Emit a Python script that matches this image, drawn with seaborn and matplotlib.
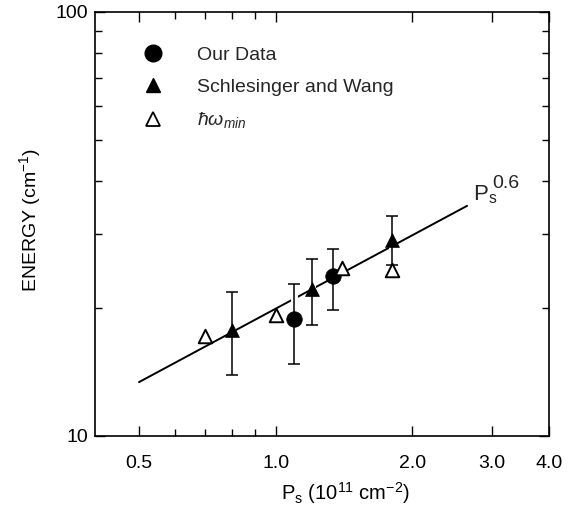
import numpy as np
import pandas as pd
import matplotlib
matplotlib.use("Agg")
import matplotlib.pyplot as plt
import matplotlib.patheffects as pe
from matplotlib.lines import Line2D
from matplotlib.ticker import FixedLocator, NullFormatter, FixedFormatter
import seaborn as sns

# ---- data ----
our_x = [1.1, 1.34]
our_y = [18.9, 23.8]
our_lo = [14.8, 19.8]
our_hi = [22.8, 27.6]

sw_x = [0.8, 1.2, 1.8]
sw_y = [17.8, 22.2, 29.0]
sw_lo = [13.9, 18.3, 25.3]
sw_hi = [21.8, 26.2, 33.0]

hw_x = [0.7, 1.0, 1.4, 1.8]
hw_y = [17.2, 19.3, 24.9, 24.6]

fit_x = [0.5, 2.64]
fit_y = [13.4, 34.9]

xticks = [0.5, 1.0, 2.0, 3.0, 4.0]
xticklabels = ["0.5", "1.0", "2.0", "3.0", "4.0"]
xminor = [0.6, 0.7, 0.8, 0.9]
yticks = [10, 100]
yticklabels = ["10", "100"]
yminor = [20, 30, 40, 50, 60, 70, 80, 90]

sns.set_style("ticks")
plt.rcParams["font.family"] = ["Liberation Sans", "DejaVu Sans"]
plt.rcParams["mathtext.fontset"] = "custom"
plt.rcParams["mathtext.rm"] = "Liberation Sans"
plt.rcParams["mathtext.it"] = "Liberation Sans:italic"

fig = plt.figure(figsize=(5.72, 5.16), dpi=100)
ax = fig.add_axes([95 / 572, 1 - 436 / 516, 454 / 572, 424 / 516])
ax.set_xscale("log")
ax.set_yscale("log")
ax.set_xlim(0.4, 4.0)
ax.set_ylim(10, 100)

halo = [pe.withStroke(linewidth=5, foreground="white")]

# fit line
fit_df = pd.DataFrame({"x": fit_x, "y": fit_y})
sns.lineplot(data=fit_df, x="x", y="y", ax=ax, color="black", lw=1.4, zorder=1)

# error bars
for xs, ys, lo, hi in [(our_x, our_y, our_lo, our_hi), (sw_x, sw_y, sw_lo, sw_hi)]:
    yerr = [np.array(ys) - np.array(lo), np.array(hi) - np.array(ys)]
    eb = ax.errorbar(xs, ys, yerr=yerr, fmt="none", ecolor="black",
                     elinewidth=1.1, capsize=4, capthick=1.1, zorder=2)
    for art in eb.lines[2]:
        art.set_path_effects(halo)

# markers
sns.scatterplot(x=our_x, y=our_y, ax=ax, marker="o", s=125, color="black",
                edgecolor="black", linewidth=0.5, zorder=3)
sns.scatterplot(x=sw_x, y=sw_y, ax=ax, marker="^", s=100, color="black",
                edgecolor="black", linewidth=0.5, zorder=3)
sns.scatterplot(x=hw_x, y=hw_y, ax=ax, marker="^", s=95, facecolor="white",
                edgecolor="black", linewidth=1.4, zorder=3)

# ticks
ax.xaxis.set_major_locator(FixedLocator(xticks))
ax.xaxis.set_major_formatter(FixedFormatter(xticklabels))
ax.xaxis.set_minor_locator(FixedLocator(xminor))
ax.xaxis.set_minor_formatter(NullFormatter())
ax.yaxis.set_major_locator(FixedLocator(yticks))
ax.yaxis.set_major_formatter(FixedFormatter(yticklabels))
ax.yaxis.set_minor_locator(FixedLocator(yminor))
ax.yaxis.set_minor_formatter(NullFormatter())
ax.tick_params(which="both", direction="in", top=True, right=True,
               color="black", width=1.0, labelsize=14, labelcolor="black")
ax.tick_params(which="major", length=7)
ax.tick_params(axis="x", which="major", pad=14)
ax.tick_params(axis="y", which="major", pad=5)
ax.tick_params(which="minor", length=5)
for s in ax.spines.values():
    s.set_linewidth(1.2)
    s.set_color("black")

ax.set_xlabel(r"$\mathregular{P_s\ (10^{11}\ cm^{-2})}$", fontsize=14.5, color="black")
ax.xaxis.set_label_coords((345 - 95) / 454, -0.105)
ax.set_ylabel(r"$\mathregular{ENERGY\ (cm^{-1})}$", fontsize=14, color="black")
ax.yaxis.set_label_coords(-0.115, 0.51)

ax.text(2.72, 36.0, r"$\mathregular{P_s}$", fontsize=16, va="baseline", ha="left")
ax.text(3.0, 38.5, "0.6", fontsize=14, va="baseline", ha="left")

handles = [
    Line2D([], [], marker="o", ls="none", color="black", markersize=12),
    Line2D([], [], marker="^", ls="none", color="black", markersize=10),
    Line2D([], [], marker="^", ls="none", markerfacecolor="white",
           markeredgecolor="black", markeredgewidth=1.3, markersize=10),
]
labels = ["Our Data", "Schlesinger and Wang", r"$\hbar\omega_{min}$"]
ax.legend(handles, labels, loc="upper left", bbox_to_anchor=((143 - 95) / 454, 1 - (46 - 12) / 424),
          frameon=False, fontsize=14, handlelength=1.0, handletextpad=1.8,
          labelspacing=0.75, borderpad=0, borderaxespad=0)

fig.savefig("out.png", dpi=100)
